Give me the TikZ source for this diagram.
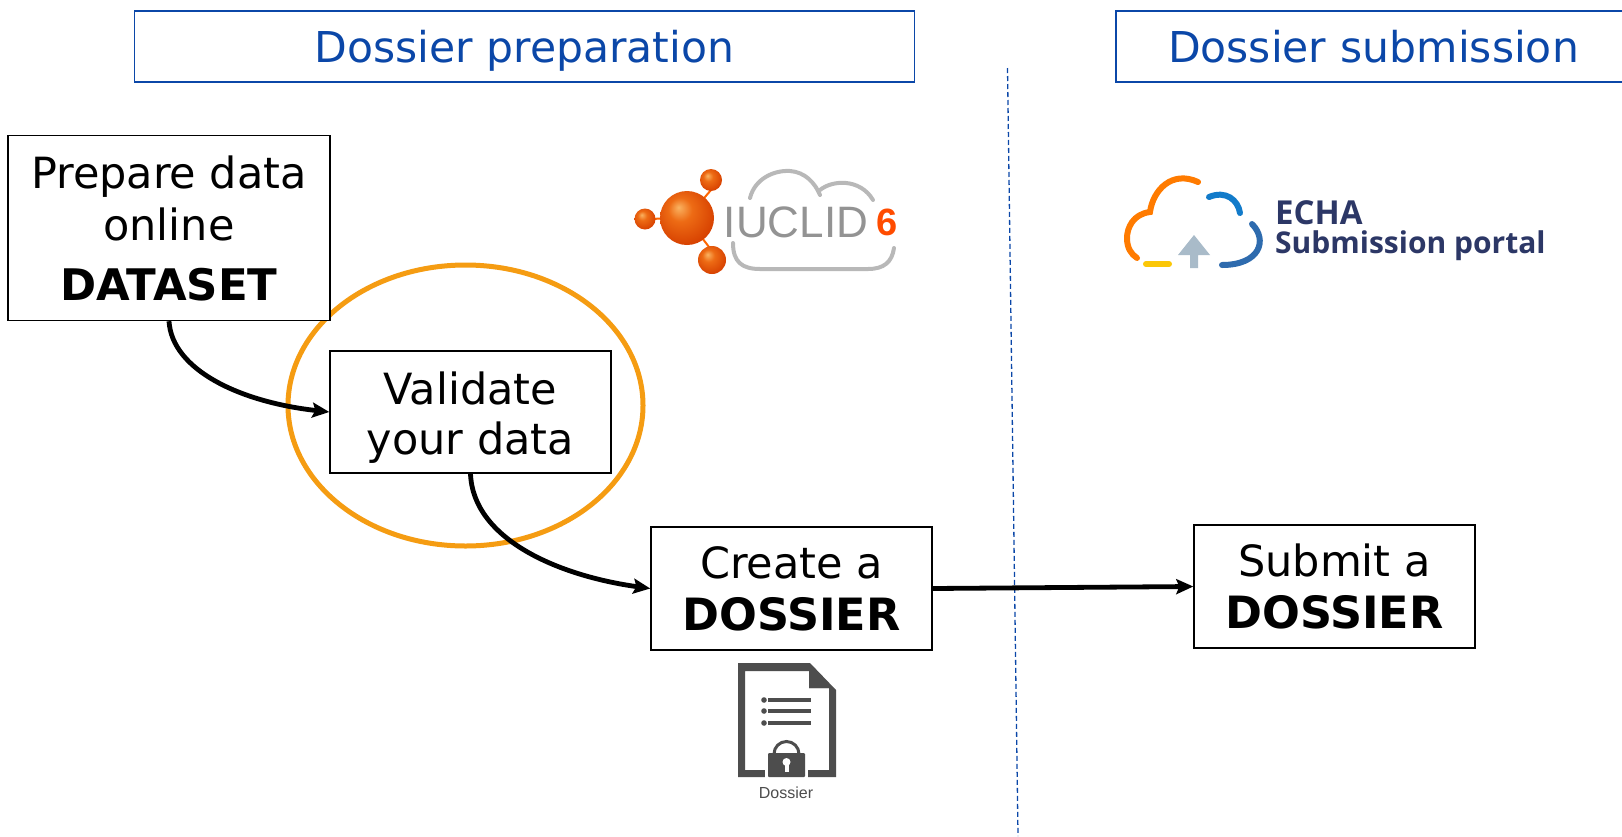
\documentclass[tikz,border=0pt]{standalone}
\usepackage{fontspec}
\setmainfont{DejaVu Sans}
\newfontfamily\logofont{Liberation Sans}
\newfontfamily\portalfont{Open Sans}
\usetikzlibrary{arrows.meta,shapes.geometric,calc}
\definecolor{ecblue}{HTML}{0B47A8}
\definecolor{ringor}{HTML}{F59C12}
\definecolor{docgrey}{HTML}{4D4D4D}
\definecolor{logogrey}{HTML}{B8B8B8}
\definecolor{portalnavy}{HTML}{2C3766}
\definecolor{portalarrow}{HTML}{A9BBC9}
\pgfdeclareradialshading{orbshade}{\pgfpoint{-8bp}{10bp}}{
  rgb(0bp)=(0.98,0.70,0.38);
  rgb(11bp)=(0.93,0.42,0.08);
  rgb(30bp)=(0.84,0.25,0.0);
  rgb(44bp)=(0.68,0.12,0.0);
  rgb(50bp)=(0.68,0.12,0.0)}
\newcommand{\strongline}[1]{{\fontsize{44.5}{52}\selectfont\bfseries #1}}
\tikzset{
  x=1pt,y=-1pt,
  header/.style={draw=ecblue,line width=1.2pt,text=ecblue,font=\fontsize{42.5}{42.5}\selectfont,anchor=center,inner sep=0pt,text height=36pt,text depth=5pt},
  stepbox/.style={draw=black,line width=1.4pt,fill=white,align=center,font=\fontsize{43}{52}\selectfont,inner sep=0pt},
  link/.style={draw=black,line width=4.8pt,-{Stealth[length=17pt,width=15pt,inset=3pt]}},
  orb/.style={shading=orbshade},
  cloudline/.style={line width=6pt,line cap=round},
}
\begin{document}
\begin{tikzpicture}
\useasboundingbox (0,0) rectangle (1622,836);
\fill[white] (0,0) rectangle (1622,836);

% headers
\node[header,minimum width=780pt,minimum height=71pt] (prep) at (524.5,46.5) {Dossier preparation};
\node[header,minimum width=520pt,minimum height=71pt,text width=520pt,align=left] (subm) at (1376,46.5) {\hspace*{52pt}Dossier submission};

% divider
\coordinate (divtop) at (1007.5,68);
\coordinate (divbot) at (1018,836);
\draw[ecblue,line width=1.3pt,dash pattern=on 5pt off 3pt] (divtop) -- (divbot);

% ring
\node[draw=ringor,line width=5pt,ellipse,minimum width=355pt,minimum height=281pt,inner sep=0pt] (ring) at (465.5,405.5) {};

% steps
\node[stepbox,minimum width=322pt,minimum height=185pt] (data) at (169,228) {Prepare data\\online\\[8pt]{\fontsize{43.5}{52}\selectfont\bfseries DATASET}};
\node[stepbox,minimum width=281pt,minimum height=122pt] (valid) at (470.5,412) {\rule{0pt}{44pt}Validate\\[-2pt]your data};
\node[stepbox,minimum width=281pt,minimum height=123pt] (create) at (791.5,588.5) {Create a\\\strongline{DOSSIER}};
\node[stepbox,minimum width=281pt,minimum height=123pt] (submit) at (1334.5,586.5) {Submit a\\\strongline{DOSSIER}};

% connectors
\draw[link] (data.south) .. controls (172,370) and (240,402) .. (valid.west);
\draw[link] (valid.south) .. controls (473,540) and (560,576) .. (create.west);
\draw[link] (create.east) -- (submit.west);

% IUCLID logo
\draw[logogrey,line width=4pt,line cap=round]
  (750,198) .. controls (755,178) and (775,170) .. (790,171)
  .. controls (805,172) and (815,183) .. (820,195);
\draw[logogrey,line width=4pt,line cap=round]
  (820,190) .. controls (832,180) and (860,178) .. (873,200);
\draw[logogrey,line width=4pt,line cap=round]
  (733,243) .. controls (733,262) and (742,269) .. (760,269)
  -- (868,269) .. controls (884,269) and (892,262) .. (894,248);
\draw[orange!80!red,line width=2pt] (687,218) -- (711,190) (687,218) -- (646,219) (687,218) -- (712,251);
\shade[orb] (687,218) circle (27pt);
\shade[orb] (711,180) circle (11pt);
\shade[orb] (645,219) circle (10.5pt);
\shade[orb] (712,260) circle (14pt);
\node[text=logogrey!80!black,font=\logofont\fontsize{44}{44}\selectfont,inner sep=0pt] (iuclid) at (796,222) {IUCLID};
\node[text=orange!60!red,font=\logofont\bfseries\fontsize{38}{38}\selectfont,inner sep=0pt] (six) at (887,222) {6};

% portal logo
\draw[orange!85!red!90!yellow,cloudline]
  (1198,182) .. controls (1172,170) and (1153,190) .. (1150,212)
  .. controls (1133,214) and (1127,228) .. (1127,238)
  .. controls (1127,248) and (1131,254) .. (1137,258);
\draw[yellow!60!orange,cloudline] (1146,264) -- (1169,264);
\draw[cyan!60!blue,cloudline]
  (1209,197) .. controls (1226,190) and (1238,200) .. (1240,213);
\draw[cyan!50!blue!85!black,cloudline]
  (1252,224) .. controls (1268,240) and (1260,265) .. (1222,265);
\fill[portalarrow] (1194,235) -- (1210,255) -- (1198,255) -- (1198,268) -- (1190,268) -- (1190,255) -- (1178,255) -- cycle;
\node[anchor=west,text=portalnavy,font=\portalfont\bfseries\fontsize{33}{33}\selectfont,inner sep=0pt] (echa) at (1275,213) {ECHA};
\node[anchor=west,text=portalnavy,font=\portalfont\bfseries\fontsize{30}{30}\selectfont,inner sep=0pt] (portal) at (1275,246) {Submission portal};

% dossier icon
\fill[docgrey,even odd rule]
  (738,663) -- (810,663) -- (836,690) -- (836,777) -- (738,777) -- cycle
  (745,671) -- (809,671) -- (809,688) -- (829,688) -- (829,770) -- (745,770) -- cycle;
\fill[docgrey] (809,671) -- (829,688) -- (809,688) -- cycle;
\foreach \yy in {700,711,723}{
  \fill[docgrey] (764,\yy) circle (2.8pt);
  \fill[docgrey] (768,\yy-2) rectangle (811,\yy+2);
}
\fill[white] (765,745) rectangle (808,777.5);
\draw[docgrey,line width=3pt] (774,756) -- (774,754) arc[start angle=180,end angle=0,radius=12.5pt] -- (799,756);
\fill[docgrey,rounded corners=1pt] (768,753) rectangle (805,777);
\fill[white] (786.5,762) circle (4pt);
\fill[white] (784.5,762) rectangle (788.5,772);
\node[text=docgrey,font=\logofont\fontsize{16}{16}\selectfont,inner sep=0pt] (doslabel) at (786,793) {Dossier};
\end{tikzpicture}
\end{document}
